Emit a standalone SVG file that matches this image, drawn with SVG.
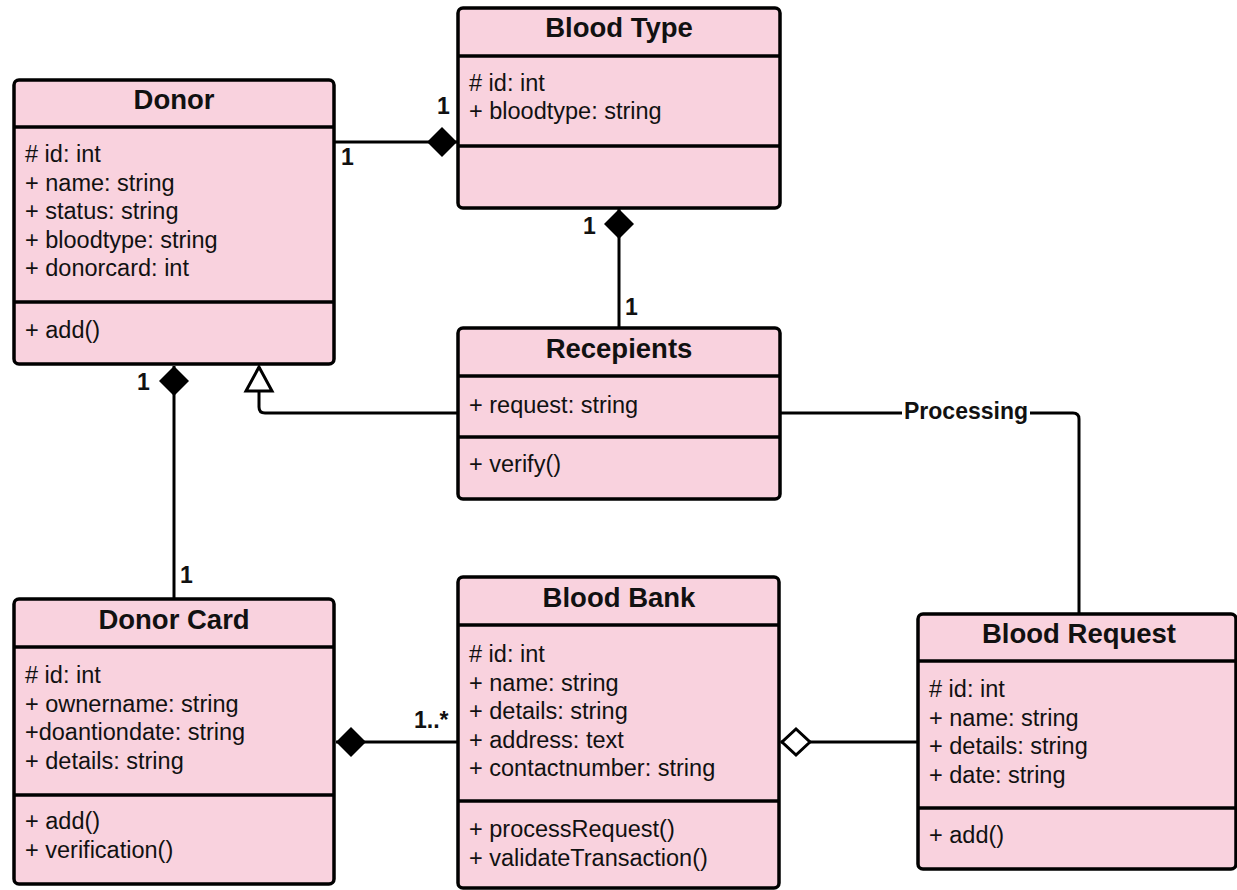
<svg xmlns="http://www.w3.org/2000/svg" width="1237" height="890" viewBox="0 0 1237 890">
<style>
.box{fill:#F9D2DE;stroke:#000;stroke-width:3.5}
.div{stroke:#000;stroke-width:3.5}
.t{font-family:"Liberation Sans",Arial,sans-serif;font-size:27.5px;font-weight:bold;fill:#111;text-anchor:middle}
.a{font-family:"Liberation Sans",Arial,sans-serif;font-size:23.5px;fill:#111}
.l{font-family:"Liberation Sans",Arial,sans-serif;font-size:23px;font-weight:bold;fill:#111}
.c{fill:none;stroke:#000;stroke-width:3}
</style>
<defs>
<marker id="dF" markerUnits="userSpaceOnUse" viewBox="0 0 30 30" refX="30" refY="15" markerWidth="30" markerHeight="30" orient="auto"><path d="M0,15 L15,0 L30,15 L15,30 Z" fill="#000"/></marker>
<marker id="dH" markerUnits="userSpaceOnUse" viewBox="-2 -2 34 32" refX="30" refY="14" markerWidth="34" markerHeight="32" orient="auto"><path d="M1,14 L15,1 L29,14 L15,27 Z" fill="#fff" stroke="#000" stroke-width="3"/></marker>
<marker id="tri" markerUnits="userSpaceOnUse" viewBox="-2 -2 30 32" refX="25" refY="14" markerWidth="30" markerHeight="32" orient="auto"><path d="M1,1 L25,14 L1,27 Z" fill="#fff" stroke="#000" stroke-width="3" stroke-linejoin="miter"/></marker>
</defs>
<g id="connectors">
<path class="c" d="M334,142 H457" marker-end="url(#dF)"/>
<path class="c" d="M619,328 V209" marker-end="url(#dF)"/>
<path class="c" d="M174,599 V366" marker-end="url(#dF)"/>
<path class="c" d="M458,413 H265 Q259,413 259,407 V367" marker-end="url(#tri)"/>
<path class="c" d="M780,413 H902 M1030,413 H1073 Q1079,413 1079,419 V614"/>
<path class="c" d="M458,742 H336" marker-end="url(#dF)"/>
<path class="c" d="M918,742 H781" marker-end="url(#dH)"/>
<text class="l" x="966" y="419" text-anchor="middle">Processing</text>
<text class="l" x="341" y="165">1</text>
<text class="l" x="437" y="114">1</text>
<text class="l" x="583" y="234">1</text>
<text class="l" x="625" y="315">1</text>
<text class="l" x="137" y="390">1</text>
<text class="l" x="180" y="583">1</text>
<text class="l" x="414" y="728">1..*</text>
</g>
<g id="donor">
<rect class="box" x="14" y="80" width="320" height="284" rx="5"/>
<line class="div" x1="14" y1="127" x2="334" y2="127"/>
<line class="div" x1="14" y1="302" x2="334" y2="302"/>
<text class="t" x="174" y="109">Donor</text>
<text class="a" x="25" y="162"># id: int</text>
<text class="a" x="25" y="190.5">+ name: string</text>
<text class="a" x="25" y="219">+ status: string</text>
<text class="a" x="25" y="247.5">+ bloodtype: string</text>
<text class="a" x="25" y="276">+ donorcard: int</text>
<text class="a" x="25" y="338">+ add()</text>
</g>
<g id="blood-type">
<rect class="box" x="458" y="8" width="322" height="200" rx="5"/>
<line class="div" x1="458" y1="56" x2="780" y2="56"/>
<line class="div" x1="458" y1="146" x2="780" y2="146"/>
<text class="t" x="619" y="37">Blood Type</text>
<text class="a" x="469" y="91"># id: int</text>
<text class="a" x="469" y="119">+ bloodtype: string</text>
</g>
<g id="recepients">
<rect class="box" x="458" y="328" width="322" height="171" rx="5"/>
<line class="div" x1="458" y1="376" x2="780" y2="376"/>
<line class="div" x1="458" y1="437" x2="780" y2="437"/>
<text class="t" x="619" y="358">Recepients</text>
<text class="a" x="469" y="413">+ request: string</text>
<text class="a" x="469" y="472">+ verify()</text>
</g>
<g id="donor-card">
<rect class="box" x="14" y="599" width="320" height="285" rx="5"/>
<line class="div" x1="14" y1="647" x2="334" y2="647"/>
<line class="div" x1="14" y1="795" x2="334" y2="795"/>
<text class="t" x="174" y="629">Donor Card</text>
<text class="a" x="25" y="683"># id: int</text>
<text class="a" x="25" y="711.5">+ ownername: string</text>
<text class="a" x="25" y="740">+doantiondate: string</text>
<text class="a" x="25" y="768.5">+ details: string</text>
<text class="a" x="25" y="829">+ add()</text>
<text class="a" x="25" y="857.5">+ verification()</text>
</g>
<g id="blood-bank">
<rect class="box" x="458" y="577" width="321" height="311" rx="5"/>
<line class="div" x1="458" y1="625" x2="779" y2="625"/>
<line class="div" x1="458" y1="801" x2="779" y2="801"/>
<text class="t" x="619" y="607">Blood Bank</text>
<text class="a" x="469" y="662"># id: int</text>
<text class="a" x="469" y="690.5">+ name: string</text>
<text class="a" x="469" y="719">+ details: string</text>
<text class="a" x="469" y="747.5">+ address: text</text>
<text class="a" x="469" y="776">+ contactnumber: string</text>
<text class="a" x="469" y="837">+ processRequest()</text>
<text class="a" x="469" y="865.5">+ validateTransaction()</text>
</g>
<g id="blood-request">
<rect class="box" x="918" y="614" width="318" height="255" rx="5"/>
<line class="div" x1="918" y1="661" x2="1236" y2="661"/>
<line class="div" x1="918" y1="808" x2="1236" y2="808"/>
<text class="t" x="1079" y="643">Blood Request</text>
<text class="a" x="929" y="697"># id: int</text>
<text class="a" x="929" y="725.5">+ name: string</text>
<text class="a" x="929" y="754">+ details: string</text>
<text class="a" x="929" y="782.5">+ date: string</text>
<text class="a" x="929" y="843">+ add()</text>
</g>
</svg>
